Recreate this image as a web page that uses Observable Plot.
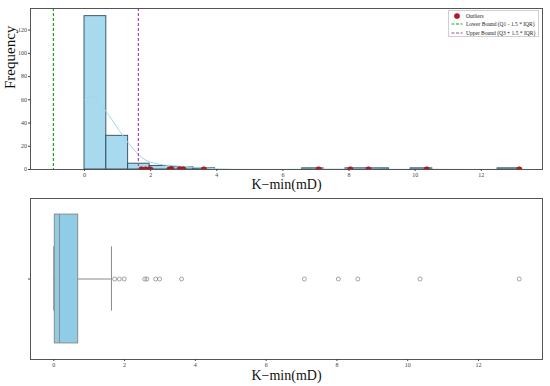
<!DOCTYPE html>
<html><head><meta charset="utf-8">
<script src="https://cdn.jsdelivr.net/npm/d3@7"></script>
<script src="https://cdn.jsdelivr.net/npm/@observablehq/plot@0.6"></script>
<style>
body{margin:0;background:#fff;}
#wrap{position:relative;width:550px;height:386px;font-family:"Liberation Serif","Times New Roman",serif;}
#wrap svg{display:block;overflow:visible}
#legend{position:absolute;left:448px;top:10px;width:91px;height:27px;border:1px solid #cfcfcf;background:#fff;font-size:5.5px;color:#222;box-sizing:border-box;}
#legend .row{position:absolute;left:0;height:8px;display:flex;align-items:center;}
#legend svg{display:inline-block;margin-right:3px}
</style></head><body><div id="wrap"></div>
<script>
// Histogram bins (edges) and counts
const binEdges = [0, 0.66, 1.32, 1.97, 2.63, 3.29, 3.95, 4.6, 5.26, 5.92, 6.58, 7.23, 7.89, 8.55, 9.21, 9.86, 10.52, 11.18, 11.84, 12.49, 13.15];
const binCounts = [132, 29, 5, 3, 2, 1, 0, 0, 0, 0, 1, 0, 1, 1, 0, 1, 0, 0, 0, 1];
// KDE curve (scaled to counts)
const kdeX = [0, 0.1, 0.2, 0.35, 0.5, 0.7, 0.9, 1.05, 1.2, 1.35, 1.5, 1.65, 1.8, 2.0, 2.2, 2.5, 2.8, 3.1, 3.4, 3.7, 4.0, 4.5, 5.0, 6.0, 6.5, 7.1, 7.6, 8.0, 8.3, 8.6, 9.2, 9.8, 10.35, 11.0, 12.0, 12.6, 13.15];
const kdeY = [60, 62.5, 63, 61, 56, 48, 40, 33.5, 27.5, 22, 17, 12.5, 9, 6.2, 4.8, 3.6, 3, 2.5, 1.7, 1.1, 0.6, 0.2, 0.1, 0.1, 0.2, 0.35, 0.35, 0.4, 0.4, 0.4, 0.2, 0.2, 0.3, 0.1, 0.05, 0.15, 0.25];
// Outliers
const outliers = [1.72, 1.85, 1.99, 2.57, 2.63, 2.88, 2.99, 3.61, 7.08, 8.04, 8.59, 10.35, 13.15];
// IQR bounds
const lowerBound = -0.94;
const upperBound = 1.63;
// Box statistics
const whiskerLow = 0, q1 = 0.03, median = 0.16, q3 = 0.69, whiskerHigh = 1.63;
// Ticks
const xTicks = [0, 2, 4, 6, 8, 10, 12];
const yTicks = [0, 20, 40, 60, 80, 100, 120];
const xLabel = "K\u2212min(mD)";
const yLabel = "Frequency";

const font = '"Liberation Serif","Times New Roman",serif';
const bins = binCounts.map((c, i) => ({x1: binEdges[i], x2: binEdges[i + 1], count: c}));
const kde = kdeX.map((x, i) => ({x, y: kdeY[i]}));

const histChart = Plot.plot({
  width: 550, height: 193, marginTop: 8, marginBottom: 24, marginLeft: 30, marginRight: 8,
  style: {fontFamily: font, fontSize: "6px", background: "white", color: "#444"},
  x: {domain: [-1.633, 13.85]},
  y: {domain: [0, 138.6]},
  marks: [
    Plot.rectY(bins, {x1: "x1", x2: "x2", y1: 0, y2: "count", fill: "#a7d9ef", stroke: "#2e4a5a", strokeWidth: 0.9}),
    Plot.line(kde, {x: "x", y: "y", stroke: "#a3d6ea", strokeWidth: 1, curve: "monotone-x"}),
    Plot.dot(outliers, {x: d => d, y: 0, r: 2.8, fill: "#c3161c", stroke: "#850c0c", strokeWidth: 0.5, clip: true}),
    Plot.ruleX([lowerBound], {stroke: "#21a121", strokeDasharray: "3,2", strokeWidth: 1.2}),
    Plot.ruleX([upperBound], {stroke: "#a64ca6", strokeDasharray: "3,2", strokeWidth: 1.2}),
    Plot.frame({stroke: "#555"}),
    Plot.axisX({ticks: xTicks, tickSize: 2, tickPadding: 1.5, label: null, fontSize: 6, fill: "#444"}),
    Plot.axisY({ticks: yTicks, tickSize: 2, tickPadding: 1.5, label: null, fontSize: 6, fill: "#444"}),
    Plot.text([xLabel], {frameAnchor: "bottom", lineAnchor: "top", dy: 10, fontSize: 14, fill: "#111"}),
    Plot.text([yLabel], {frameAnchor: "left", rotate: -90, dx: -20, fontSize: 15, fill: "#111"})
  ]
});

const boxChart = Plot.plot({
  width: 550, height: 193, marginTop: 5, marginBottom: 27, marginLeft: 30, marginRight: 8,
  style: {fontFamily: font, fontSize: "6px", background: "white", color: "#444"},
  x: {domain: [-0.6575, 13.8075]},
  y: {domain: [-0.5, 0.5]},
  marks: [
    Plot.ruleY([0], {x1: q3, x2: whiskerHigh, stroke: "#8a8a8a", strokeWidth: 1}),
    Plot.ruleY([0], {x1: whiskerLow, x2: q1, stroke: "#8a8a8a", strokeWidth: 1}),
    Plot.ruleX([whiskerLow, whiskerHigh], {y1: -0.2, y2: 0.2, stroke: "#8a8a8a", strokeWidth: 1}),
    Plot.rect([{q1, q3}], {x1: "q1", x2: "q3", y1: -0.4, y2: 0.4, fill: "#8fcde7", stroke: "#8a8a8a", strokeWidth: 1}),
    Plot.ruleX([median], {y1: -0.4, y2: 0.4, stroke: "#8a8a8a", strokeWidth: 1}),
    Plot.dot(outliers, {x: d => d, y: 0, r: 2, stroke: "#6a6a6a", fill: "none", strokeWidth: 0.6}),
    Plot.frame({stroke: "#555"}),
    Plot.axisX({ticks: xTicks, tickSize: 2, tickPadding: 1.5, label: null, fontSize: 6, fill: "#444"}),
    Plot.axisY({ticks: [0], tickSize: 2, tickFormat: () => "", label: null}),
    Plot.text([xLabel], {frameAnchor: "bottom", lineAnchor: "top", dy: 11, fontSize: 14, fill: "#111"})
  ]
});

const wrap = document.getElementById("wrap");
wrap.appendChild(histChart);
wrap.appendChild(boxChart);

// Legend inside the top panel
const legend = document.createElement("div");
legend.id = "legend";
const items = [
  {label: "Outliers", type: "dot", color: "#c3161c"},
  {label: "Lower Bound (Q1 - 1.5 * IQR)", type: "dash", color: "#21a121"},
  {label: "Upper Bound (Q3 + 1.5 * IQR)", type: "dash", color: "#a64ca6"}
];
items.forEach((it, i) => {
  const row = document.createElement("div");
  row.className = "row";
  row.style.top = (1 + i * 8.4) + "px";
  row.style.left = "2px";
  const sw = it.type === "dot"
    ? `<svg width="12" height="8"><circle cx="6" cy="4" r="2.6" fill="${it.color}" stroke="#850c0c" stroke-width="0.5"/></svg>`
    : `<svg width="12" height="8"><line x1="0.5" x2="11.5" y1="4" y2="4" stroke="${it.color}" stroke-width="1" stroke-dasharray="3,1.5"/></svg>`;
  row.innerHTML = sw + `<span>${it.label}</span>`;
  legend.appendChild(row);
});
wrap.appendChild(legend);
</script>
</body></html>
